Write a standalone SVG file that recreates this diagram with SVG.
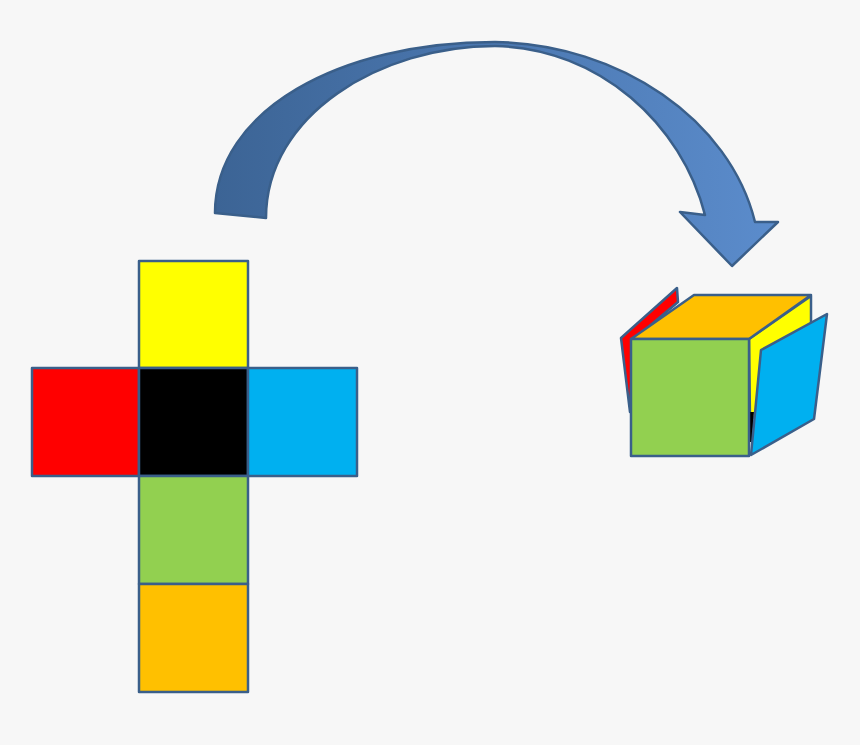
<svg xmlns="http://www.w3.org/2000/svg" width="860" height="745" viewBox="0 0 860 745">
<defs>
<style>.f{stroke:#3a5f8a;stroke-width:2.5;stroke-linejoin:round}</style>
<linearGradient id="g" x1="0" y1="0" x2="1" y2="0"><stop offset="0" stop-color="#3c6495"/><stop offset="1" stop-color="#5b8ccc"/></linearGradient>
</defs>
<rect width="860" height="745" fill="#f7f7f7"/>
<g id="connectors">
<path class="f" fill="url(#g)" stroke-width="2" d="M215,213 C215,110 340,42 495,42 C620,44 730,120 755,222 L778,222 L732,266 L680,212 L705,215 C682,125 600,48 495,46 C380,46 266,115 266,218 Z"/>
</g>
<g id="net">
<rect class="f" x="139" y="261" width="109" height="107" fill="#ffff00"/>
<rect class="f" x="32" y="368" width="107" height="108" fill="#ff0000"/>
<rect class="f" x="139" y="368" width="109" height="108" fill="#000000"/>
<rect class="f" x="248" y="368" width="109" height="108" fill="#00b0f0"/>
<rect class="f" x="139" y="476" width="109" height="108" fill="#92d050"/>
<rect class="f" x="139" y="584" width="109" height="108" fill="#ffc000"/>
</g>
<g id="cube">
<polygon class="f" fill="#ff0000" points="621,338 677,288 678,302 633,340 630,412"/>
<polygon class="f" fill="#ffff00" points="749,339 811,296 811,380 750,420"/>
<polygon fill="#000" points="749,412 754,412 752,442 749,442"/>
<polygon class="f" fill="#ffc000" points="631,339 694,295 811,295 749,339"/>
<polygon class="f" fill="#00b0f0" points="761,350 827,314 814,419 751,455"/>
<rect class="f" x="631" y="339" width="118" height="117" fill="#92d050"/>
</g>
</svg>
